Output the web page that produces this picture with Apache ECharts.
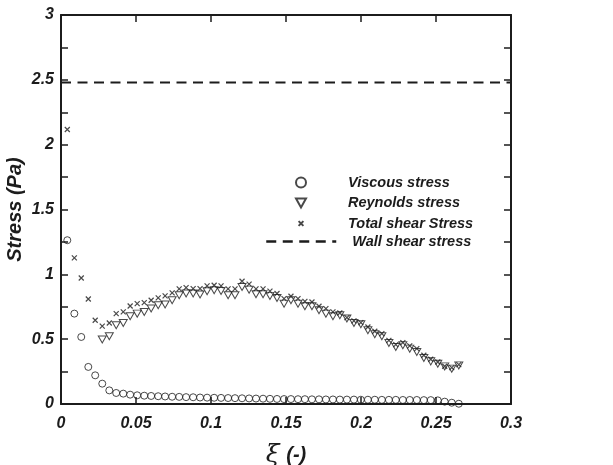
<!DOCTYPE html>
<html>
<head>
<meta charset="utf-8">
<script src="https://cdn.jsdelivr.net/npm/echarts@6/dist/echarts.min.js"></script>
<style>
  html, body { margin: 0; padding: 0; background: #fff; }
  #chart { width: 613px; height: 465px; }
</style>
</head>
<body>
<div id="chart"></div>
<script>
// Dimensionless wall-normal position xi (-)
const xi = [
  0.0042, 0.0089, 0.0135, 0.0182, 0.0228, 0.0275, 0.0322, 0.0368, 0.0415, 0.0461,
  0.0508, 0.0555, 0.0601, 0.0648, 0.0694, 0.0741, 0.0788, 0.0834, 0.0881, 0.0927,
  0.0974, 0.1021, 0.1067, 0.1114, 0.1160, 0.1207, 0.1254, 0.1300, 0.1347, 0.1393,
  0.1440, 0.1487, 0.1533, 0.1580, 0.1626, 0.1673, 0.1720, 0.1766, 0.1813, 0.1859,
  0.1906, 0.1953, 0.1999, 0.2046, 0.2092, 0.2139, 0.2186, 0.2232, 0.2279, 0.2325,
  0.2372, 0.2419, 0.2465, 0.2512, 0.2558, 0.2605, 0.2652
];

// Viscous stress (Pa)
const viscous = [
  1.263, 0.697, 0.517, 0.286, 0.221, 0.157, 0.105, 0.085, 0.080, 0.072,
  0.067, 0.064, 0.062, 0.060, 0.058, 0.056, 0.055, 0.053, 0.052, 0.050,
  0.049, 0.048, 0.047, 0.046, 0.045, 0.044, 0.043, 0.042, 0.041, 0.040,
  0.039, 0.038, 0.038, 0.037, 0.037, 0.036, 0.036, 0.035, 0.035, 0.034,
  0.034, 0.034, 0.033, 0.033, 0.033, 0.032, 0.032, 0.032, 0.031, 0.031,
  0.031, 0.030, 0.030, 0.028, 0.018, 0.010, 0.002
];

// Reynolds stress (Pa); not resolved in the first few points
const reynolds = [
  null, null, null, null, null, 0.497, 0.522, 0.607, 0.625, 0.677,
  0.697, 0.710, 0.736, 0.762, 0.767, 0.800, 0.839, 0.852, 0.852, 0.844,
  0.870, 0.877, 0.872, 0.839, 0.839, 0.903, 0.882, 0.846, 0.846, 0.834,
  0.818, 0.774, 0.800, 0.774, 0.754, 0.754, 0.723, 0.697, 0.677, 0.684,
  0.659, 0.625, 0.615, 0.569, 0.538, 0.522, 0.471, 0.440, 0.453, 0.427,
  0.401, 0.355, 0.329, 0.311, 0.290, 0.273, 0.298
];

// Total shear stress (Pa)
const total = [
  2.117, 1.127, 0.972, 0.810, 0.646, 0.600, 0.625, 0.697, 0.710, 0.756,
  0.774, 0.782, 0.800, 0.818, 0.834, 0.857, 0.888, 0.898, 0.890, 0.890,
  0.911, 0.916, 0.911, 0.888, 0.888, 0.947, 0.924, 0.888, 0.888, 0.870,
  0.852, 0.813, 0.831, 0.813, 0.792, 0.787, 0.754, 0.736, 0.710, 0.702,
  0.666, 0.641, 0.628, 0.594, 0.561, 0.543, 0.491, 0.458, 0.473, 0.448,
  0.427, 0.376, 0.345, 0.324, 0.291, 0.280, 0.304
];

// Wall shear stress (Pa), constant across the section
const wallShear = 2.48;
const xRange = [0, 0.3];

const INK = '#1c1c1c';
const FONT = '"Liberation Sans", Arial, sans-serif';
const DASH = [10, 6.5];

// Marker outlines
const TRIANGLE_DOWN = 'path://M0,0L10,0L5,9Z';
const CROSS = 'path://M0,0L10,10M10,0L0,10';
// Same cross, padded so it draws smaller inside a legend icon box
const CROSS_SMALL = 'path://M0,0L0,0M2.6,2.6L7.4,7.4M7.4,2.6L2.6,7.4M10,10L10,10';

const pairs = (ys) => xi.map((x, i) => [x, ys[i]]).filter(p => p[1] !== null);

const tickFont = { fontFamily: FONT, fontWeight: 'bold', fontStyle: 'italic', fontSize: 16, color: INK };
const legendFont = { fontFamily: FONT, fontWeight: 'bold', fontStyle: 'italic', fontSize: 14.5, color: INK, lineHeight: 14 };

const chart = echarts.init(document.getElementById('chart'), null, { renderer: 'canvas' });

const hollow = { color: 'rgba(0,0,0,0)', borderColor: INK, borderWidth: 1 };
const frameLine = { show: true, onZero: false, lineStyle: { color: INK, width: 2 } };
const frameTick = { show: true, inside: true, length: 7, lineStyle: { color: INK, width: 1.5 } };

chart.setOption({
  animation: false,
  backgroundColor: '#fff',
  grid: { left: 61, right: 102, top: 15, bottom: 61, containLabel: false, outerBoundsMode: 'none' },
  legend: [
    {
      data: [
        { name: 'Viscous stress' },
        { name: 'Reynolds stress' },
        { name: 'Total shear Stress', icon: CROSS_SMALL }
      ],
      orient: 'vertical',
      left: 295,
      top: 175,
      itemWidth: 10,
      itemHeight: 10,
      itemGap: 5.5,
      padding: 0,
      textStyle: Object.assign({ padding: [0, 0, 0, 37] }, legendFont)
    },
    {
      data: [{ name: 'Wall shear stress', itemStyle: { opacity: 0 }, lineStyle: { color: INK, width: 2.5, type: DASH } }],
      left: 265,
      top: 234,
      itemWidth: 70,
      itemHeight: 14,
      padding: 0,
      textStyle: Object.assign({ padding: [0, 0, 0, 11] }, legendFont)
    }
  ],
  xAxis: [
    {
      type: 'value', min: xRange[0], max: xRange[1], interval: 0.05,
      position: 'bottom',
      name: '{xi|ξ}  {unit|(-)}',
      nameLocation: 'middle',
      nameGap: 39,
      nameMoveOverlap: false,
      nameTextStyle: {
        rich: {
          xi: { fontFamily: '"DejaVu Serif", serif', fontStyle: 'italic', fontSize: 25, color: INK },
          unit: { fontFamily: FONT, fontWeight: 'bold', fontStyle: 'italic', fontSize: 20, color: INK }
        }
      },
      axisLine: frameLine,
      axisTick: frameTick,
      axisLabel: Object.assign({ margin: 12, formatter: v => String(+v.toFixed(2)) }, tickFont),
      splitLine: { show: false }
    },
    {
      type: 'value', min: xRange[0], max: xRange[1], interval: 0.05,
      position: 'top',
      axisLine: frameLine,
      axisTick: frameTick,
      axisLabel: { show: false },
      splitLine: { show: false }
    }
  ],
  yAxis: [
    {
      type: 'value', min: 0, max: 3, interval: 0.25,
      position: 'left',
      name: 'Stress (Pa)',
      nameLocation: 'middle',
      nameGap: 36,
      nameMoveOverlap: false,
      nameTextStyle: { fontFamily: FONT, fontWeight: 'bold', fontStyle: 'italic', fontSize: 20, color: INK },
      axisLine: frameLine,
      axisTick: frameTick,
      axisLabel: Object.assign({ margin: 7, formatter: v => (Math.abs(v * 2 - Math.round(v * 2)) < 1e-9 ? String(v) : '') }, tickFont),
      splitLine: { show: false }
    },
    {
      type: 'value', min: 0, max: 3, interval: 0.25,
      position: 'right',
      axisLine: frameLine,
      axisTick: frameTick,
      axisLabel: { show: false },
      splitLine: { show: false }
    }
  ],
  series: [
    {
      name: 'Wall shear stress',
      type: 'line',
      data: [[xRange[0], wallShear], [xRange[1], wallShear]],
      symbol: 'none',
      lineStyle: { color: INK, width: 2, type: DASH },
      itemStyle: { color: INK },
      z: 1
    },
    {
      name: 'Viscous stress',
      type: 'scatter',
      data: pairs(viscous),
      symbol: 'circle',
      symbolSize: 7,
      itemStyle: hollow,
      z: 3
    },
    {
      name: 'Reynolds stress',
      type: 'scatter',
      data: pairs(reynolds),
      symbol: TRIANGLE_DOWN,
      symbolSize: [8, 7],
      itemStyle: hollow,
      z: 3
    },
    {
      name: 'Total shear Stress',
      type: 'scatter',
      data: pairs(total),
      symbol: CROSS,
      symbolSize: 5,
      itemStyle: { color: 'rgba(0,0,0,0)', borderColor: INK, borderWidth: 1.2 },
      z: 4
    }
  ]
});
</script>
</body>
</html>
